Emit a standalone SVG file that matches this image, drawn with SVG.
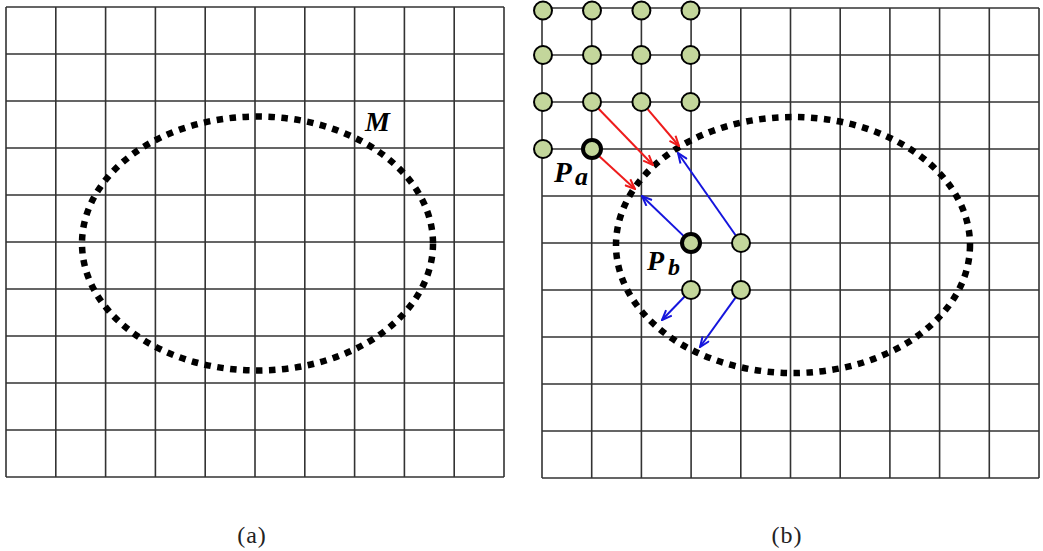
<svg xmlns="http://www.w3.org/2000/svg" width="1043" height="551" viewBox="0 0 1043 551">
<style>
.grid{fill:none;stroke:#333;stroke-width:1.6}
.ell{fill:none;stroke:#000;stroke-width:6.5;stroke-dasharray:6.5 6.5}
.pt{fill:#c3d69b;stroke:#000;stroke-width:2}
.pt.key{stroke-width:4}
.red{stroke:#ee1c1c;stroke-width:2;fill:none}
.blue{stroke:#1515dd;stroke-width:2;fill:none}
.lbl{font-family:"Liberation Serif",serif;font-weight:bold;font-style:italic;fill:#000}
.cap{font-family:"Liberation Serif",serif;font-size:24px;letter-spacing:1px;fill:#222}
</style>
<defs>
<marker id="ar" viewBox="0 0 12 10" refX="11" refY="5" markerWidth="12" markerHeight="10" markerUnits="userSpaceOnUse" orient="auto">
<path d="M1,1 L11,5 L1,9" fill="none" stroke="#ee1c1c" stroke-width="2"/>
</marker>
<marker id="ab" viewBox="0 0 12 10" refX="11" refY="5" markerWidth="12" markerHeight="10" markerUnits="userSpaceOnUse" orient="auto">
<path d="M1,1 L11,5 L1,9" fill="none" stroke="#1515dd" stroke-width="2"/>
</marker>
</defs>
<rect width="1043" height="551" fill="#fff"/>
<g id="panel-a">
<path class="grid" d="M6,7V477M55.8,7V477M105.6,7V477M155.4,7V477M205.2,7V477M255,7V477M304.8,7V477M354.6,7V477M404.4,7V477M454.2,7V477M504,7V477
M6,7H504M6,54H504M6,101H504M6,148H504M6,195H504M6,242H504M6,289H504M6,336H504M6,383H504M6,430H504M6,477H504"/>
<ellipse id="M-a" class="ell" cx="257.5" cy="243.5" rx="175.5" ry="127"/>
<text class="lbl" x="365" y="131" font-size="28">M</text>
<text class="cap" x="252" y="543" text-anchor="middle">(a)</text>
</g>
<g id="panel-b">
<path class="grid" d="M542,8V478M591.7,8V478M641.4,8V478M691.1,8V478M740.8,8V478M790.5,8V478M840.2,8V478M889.9,8V478M939.6,8V478M989.3,8V478M1039,8V478
M542,8H1039M542,55H1039M542,102H1039M542,149H1039M542,196H1039M542,243H1039M542,290H1039M542,337H1039M542,384H1039M542,431H1039M542,478H1039"/>
<ellipse id="M-b" class="ell" cx="793" cy="245" rx="177" ry="128"/>
<text class="cap" x="787" y="543" text-anchor="middle">(b)</text>
</g>
<g id="connectors">
<line class="red" x1="598.6" y1="108.8" x2="653" y2="165" marker-end="url(#ar)"/>
<line class="red" x1="647.6" y1="109.2" x2="679" y2="146" marker-end="url(#ar)"/>
<line class="red" x1="599" y1="156" x2="635" y2="189" marker-end="url(#ar)"/>
<line class="blue" x1="683.8" y1="236.1" x2="642" y2="196" marker-end="url(#ab)"/>
<line class="blue" x1="735.6" y1="235.2" x2="678" y2="153" marker-end="url(#ab)"/>
<line class="blue" x1="684.4" y1="296.8" x2="662" y2="320" marker-end="url(#ab)"/>
<line class="blue" x1="735.5" y1="297.7" x2="700" y2="347" marker-end="url(#ab)"/>
</g>
<g id="points">
<g id="n-0-0"><circle class="pt" cx="543" cy="10.5" r="9"/></g>
<g id="n-0-1"><circle class="pt" cx="592" cy="10.5" r="9"/></g>
<g id="n-0-2"><circle class="pt" cx="641.4" cy="10.5" r="9"/></g>
<g id="n-0-3"><circle class="pt" cx="690.5" cy="10.5" r="9"/></g>
<g id="n-1-0"><circle class="pt" cx="543" cy="55" r="9"/></g>
<g id="n-1-1"><circle class="pt" cx="592" cy="55" r="9"/></g>
<g id="n-1-2"><circle class="pt" cx="641.4" cy="55" r="9"/></g>
<g id="n-1-3"><circle class="pt" cx="690.5" cy="55" r="9"/></g>
<g id="n-2-0"><circle class="pt" cx="543" cy="102" r="9"/></g>
<g id="n-2-1"><circle class="pt" cx="592" cy="102" r="9"/></g>
<g id="n-2-2"><circle class="pt" cx="641.4" cy="102" r="9"/></g>
<g id="n-2-3"><circle class="pt" cx="690.5" cy="102" r="9"/></g>
<g id="n-3-0"><circle class="pt" cx="543" cy="149" r="9"/></g>
<g id="Pa"><circle class="pt key" cx="592" cy="149" r="9"/>
<text class="lbl" x="554" y="182" font-size="29">P</text><text class="lbl" x="575" y="185" font-size="26" font-weight="normal">a</text></g>
<g id="Pb"><circle class="pt key" cx="691" cy="243" r="9"/>
<text class="lbl" x="647" y="270" font-size="28">P</text><text class="lbl" x="668" y="275" font-size="24" font-weight="normal">b</text></g>
<g id="n-b1"><circle class="pt" cx="741" cy="243" r="9"/></g>
<g id="n-b2"><circle class="pt" cx="691" cy="290" r="9"/></g>
<g id="n-b3"><circle class="pt" cx="741" cy="290" r="9"/></g>
</g>
</svg>
